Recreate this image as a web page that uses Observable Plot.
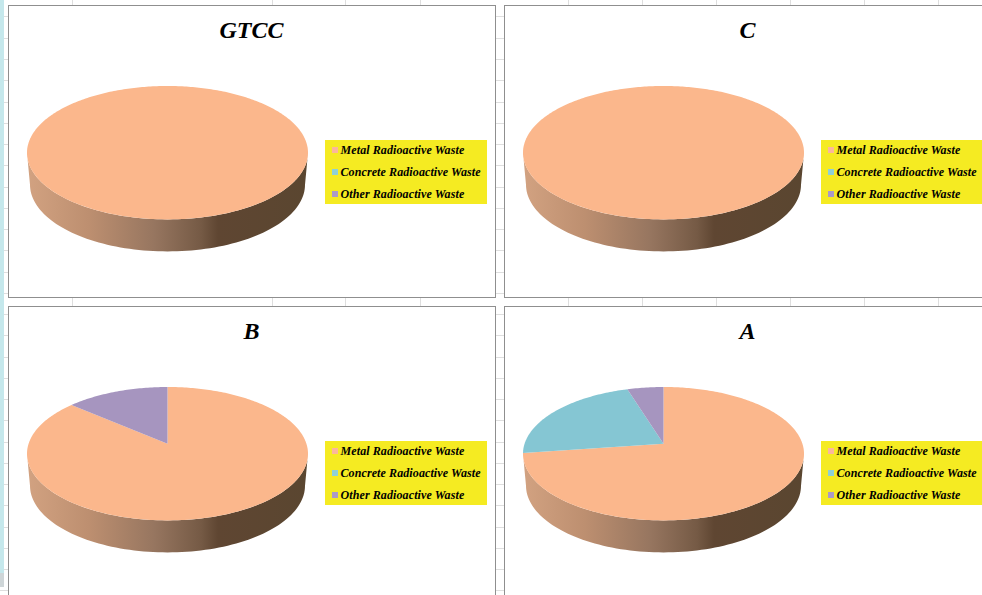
<!DOCTYPE html>
<html>
<head>
<meta charset="utf-8">
<script src="https://cdn.jsdelivr.net/npm/d3@7"></script>
<script src="https://cdn.jsdelivr.net/npm/@observablehq/plot@0.6"></script>
<style>
  html, body { margin: 0; padding: 0; background: #fff; }
  #sheet { position: relative; width: 982px; height: 595px; overflow: hidden; font-family: "Liberation Serif", serif; }
  #sheet svg { display: block; max-width: none; }
  .layer { position: absolute; left: 0; top: 0; }
  .panel { position: absolute; width: 486px; height: 291px; border: 1px solid #8f8f8f; background: #fff; }
  .legend { position: absolute; left: 316px; top: 134px; width: 162px; height: 64px; background: #f5eb22; }
  .legend div { position: absolute; left: 15.5px; height: 14px; font: italic bold 12px/14px "Liberation Serif", serif; letter-spacing: 0.1px; color: #000; white-space: nowrap; }
  .legend i { position: absolute; left: -9px; top: 4px; width: 6px; height: 6px; }
</style>
</head>
<body>
<div id="sheet"></div>
<script>
// Share of each waste type per class, in percent, clockwise from twelve o'clock.
const wasteTypes = ["Metal Radioactive Waste", "Concrete Radioactive Waste", "Other Radioactive Waste"];
const gtccShares = [100, 0, 0];
const cShares = [100, 0, 0];
const bShares = [86.3, 0, 13.7];
const aShares = [72.8, 22.4, 4.8];

const sliceColors = ["#fbb78c", "#85c6d3", "#a695bf"];
const swatchColors = ["#fbb79b", "#8fd0d6", "#ab9ac8"];

const panels = [
  {title: "GTCC", shares: gtccShares, left: 8, top: 5},
  {title: "C", shares: cShares, left: 504, top: 5},
  {title: "B", shares: bShares, left: 8, top: 306},
  {title: "A", shares: aShares, left: 504, top: 306}
];

// Disc geometry, in pixels inside a panel.
const panelW = 486, panelH = 291;
const discX = 158, discY = 146.2, discRx = 140.5, discRy = 66.7, depth = 32, baseRx = 137.5;
const tilt = 0.149;
const ry = discRy / discRx;

// Perspective view of the unit disc: the hub sits above the middle of the ellipse.
function project(deg) {
  const t = deg * Math.PI / 180, u = Math.sin(t), v = Math.cos(t), w = 1 + tilt * v;
  return {x: Math.sqrt(1 - tilt * tilt) * u / w, y: ry * (v + tilt) / w};
}

function slicePolygons(shares) {
  const rows = [];
  let start = 0;
  shares.forEach((share, i) => {
    const sweep = share * 3.6;
    if (sweep === 0) return;
    const type = wasteTypes[i];
    if (sweep < 360) rows.push({type, x: 0, y: ry * tilt});
    d3.range(0, Math.ceil(sweep) + 1).forEach(k => {
      rows.push({type, ...project(start + Math.min(k, sweep))});
    });
    start += sweep;
  });
  return rows;
}

// Outer wall: the front half of the top ellipse joined to the front half of the base.
function wallPolygon() {
  const front = d3.range(180, 361, 2).map(d => d * Math.PI / 180);
  const top = front.map(t => ({x: Math.cos(t), y: ry * Math.sin(t)}));
  const base = front.slice().reverse().map(t => ({
    x: (baseRx / discRx) * Math.cos(t),
    y: ry * Math.sin(t) - depth / discRx
  }));
  return [...top, ...base];
}

function wallGradient(id) {
  return () => {
    const defs = d3.create("svg:defs");
    const g = defs.append("linearGradient").attr("id", id);
    [[0, "#d2a281"], [0.22, "#bd8f70"], [0.45, "#977660"], [0.62, "#755a45"], [0.68, "#5f4632"], [1, "#5a4630"]]
      .forEach(([o, c]) => g.append("stop").attr("offset", o).attr("stop-color", c));
    return defs.node();
  };
}

function drawPanel(p, i) {
  const gradientId = `wall-${i}`;
  return Plot.plot({
    width: panelW,
    height: panelH,
    margin: 0,
    style: {background: "transparent"},
    x: {axis: null, domain: [-discX / discRx, (panelW - discX) / discRx], range: [0, panelW]},
    y: {axis: null, domain: [(discY - panelH) / discRx, discY / discRx], range: [panelH, 0]},
    color: {domain: wasteTypes, range: sliceColors},
    marks: [
      wallGradient(gradientId),
      Plot.line(wallPolygon(), {x: "x", y: "y", fill: `url(#${gradientId})`, stroke: "none", curve: "linear-closed"}),
      Plot.line(slicePolygons(p.shares), {x: "x", y: "y", z: "type", fill: "type", stroke: "none", curve: "linear-closed"}),
      Plot.text([p.title], {
        frameAnchor: "top", dx: -1, dy: 24, lineAnchor: "middle",
        fontFamily: "Liberation Serif", fontSize: 24, fontWeight: "bold", fontStyle: "italic", fill: "#000"
      })
    ]
  });
}

// Worksheet cell lines showing through behind the charts.
const columnLines = [72, 272, 345, 420, 568, 642, 716, 790, 864, 938];
const rowLines = [16, 38, 59, 80, 102, 123, 144, 165, 187, 208, 229, 250, 272, 293, 314, 335, 357, 378, 399, 420, 442, 463, 484, 505, 527, 548, 569, 590];

const sheet = document.getElementById("sheet");
const backdrop = Plot.plot({
  width: 982,
  height: 595,
  margin: 0,
  style: {background: "#fff"},
  x: {axis: null, domain: [0, 982], range: [0, 982]},
  y: {axis: null, domain: [0, 595], range: [0, 595]},
  marks: [
    Plot.ruleX(columnLines, {stroke: "#dedede", strokeWidth: 1}),
    Plot.ruleY(rowLines, {stroke: "#dedede", strokeWidth: 1}),
    Plot.rect([{x1: 0, x2: 4, y1: 0, y2: 573, c: "#c5e8ec"}, {x1: 0, x2: 4, y1: 573, y2: 587, c: "#cfd6d8"}],
      {x1: "x1", x2: "x2", y1: "y1", y2: "y2", fill: "c", inset: 0})
  ]
});
backdrop.classList.add("layer");
sheet.appendChild(backdrop);

panels.forEach((p, i) => {
  const box = document.createElement("div");
  box.className = "panel";
  box.style.left = p.left + "px";
  box.style.top = p.top + "px";
  box.appendChild(drawPanel(p, i));

  const legend = document.createElement("div");
  legend.className = "legend";
  wasteTypes.forEach((name, j) => {
    const row = document.createElement("div");
    row.style.top = (3 + j * 22) + "px";
    row.textContent = name;
    const swatch = document.createElement("i");
    swatch.style.background = swatchColors[j];
    row.appendChild(swatch);
    legend.appendChild(row);
  });
  box.appendChild(legend);
  sheet.appendChild(box);
});
</script>
</body>
</html>
